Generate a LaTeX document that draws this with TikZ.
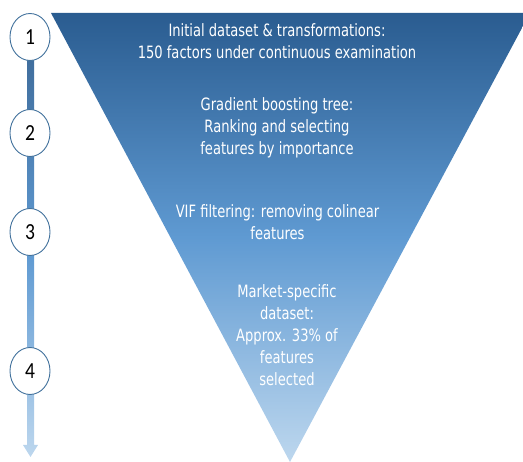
\documentclass[tikz,border=0pt]{standalone}
\usepackage{fontspec}
\setmainfont{DejaVu Sans}[FakeStretch=0.77]
\newfontfamily\numfont{Carlito}[FakeStretch=0.85]
\usetikzlibrary{shapes.geometric,calc}
\definecolor{funTop}{HTML}{2A5C90}
\definecolor{funMid}{HTML}{5F9AD2}
\definecolor{funBot}{HTML}{BDD7EE}
\definecolor{ringBlue}{HTML}{41719C}
\tikzset{
  stepnum/.style={ellipse, draw=ringBlue, line width=0.9pt, fill=white,
    minimum width=40pt, minimum height=47pt, inner sep=0pt,
    font=\numfont\fontsize{23}{25}\selectfont, text=black},
  funtext/.style={align=center, text=white, inner sep=0pt,
    font=\fontsize{17}{22}\selectfont}
}
\begin{document}
\begin{tikzpicture}[x=1pt,y=-1pt]
\useasboundingbox (0,0) rectangle (523,462);
\begin{scope}
\clip (0,0) rectangle (523,462);
\shade[top color=funTop, bottom color=funBot, middle color=funMid, shading angle=0]
  (51,13) -- (530,13) -- (290,462) -- cycle;
\end{scope}
% step shaft
\coordinate (shaftTop) at (30.5,50);
\coordinate (tip) at (30.5,457);
\shade[top color=funTop!90!white, bottom color=funBot, middle color=funMid]
  ($(shaftTop)+(-3.5,0)$) -- ($(shaftTop)+(3.5,0)$) -- ($(tip)+(3.5,-12)$) --
  ($(tip)+(7.5,-12)$) -- (tip) -- ($(tip)+(-7.5,-12)$) -- ($(tip)+(-3.5,-12)$) -- cycle;
\node[stepnum] (c1) at (30,37) {1};
\node[stepnum] (c2) at (30,133) {2};
\node[stepnum] (c3) at (30,232) {3};
\node[stepnum] (c4) at (30,371) {4};
\node[funtext] (t1) at (277,41) {Initial dataset \& transformations:\\150 factors under continuous examination};
\node[funtext] (t2) at (277,128) {Gradient boosting tree:\\Ranking and selecting\\features by importance};
\node[funtext] (t3) at (277.5,222) {VIF filtering: removing colinear\\features};
\node[funtext] (t4) at (287,335) {Market-specific\\dataset:\\Approx. 33\% of\\features\\selected};
\end{tikzpicture}
\end{document}
